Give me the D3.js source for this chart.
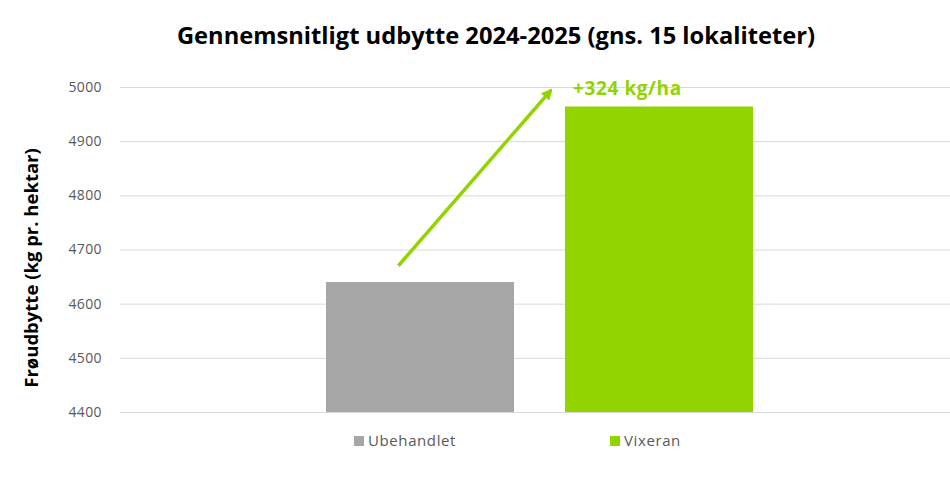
<!DOCTYPE html>
<html>
<head>
<meta charset="utf-8">
<script src="https://cdn.jsdelivr.net/npm/d3@7"></script>
<style>
  body { margin: 0; background: #fff; }
  svg { display: block; }
</style>
</head>
<body>
<div id="chart"></div>
<script>
const series = ["Ubehandlet", "Vixeran"];
const values = [4640, 4964];
const colors = ["#A6A6A6", "#92D400"];
const yTicks = [4400, 4500, 4600, 4700, 4800, 4900, 5000];
const gainLabel = "+324 kg/ha";

const W = 950, H = 500;
const plot = { left: 120, right: 950, top: 87, bottom: 412 };

const svg = d3.select("#chart").append("svg")
  .attr("width", W)
  .attr("height", H);

const y = d3.scaleLinear()
  .domain([4400, 5000])
  .range([plot.bottom, plot.top]);

const x = d3.scaleBand()
  .domain(series)
  .range([326, 753])
  .paddingInner(0.2134)
  .paddingOuter(0);

// gridlines + tick labels
const yAxis = svg.append("g")
  .attr("transform", `translate(${plot.left},0)`)
  .call(d3.axisLeft(y)
    .tickValues(yTicks)
    .tickSize(-(plot.right - plot.left))
    .tickPadding(18)
    .tickFormat(d3.format("d")));
yAxis.select(".domain").remove();
yAxis.selectAll(".tick line").attr("stroke", "#d9d9d9").attr("stroke-width", 1);
yAxis.selectAll(".tick text")
  .attr("fill", "#595959")
  .style("font-family", "'Open Sans', sans-serif")
  .style("font-size", "14px")
  .style("letter-spacing", "0.4px");

// bars
svg.selectAll(".bar")
  .data(series)
  .enter().append("rect")
  .attr("class", "bar")
  .attr("x", d => x(d))
  .attr("y", (d, i) => y(values[i]))
  .attr("width", x.bandwidth())
  .attr("height", (d, i) => y(4400) - y(values[i]))
  .attr("fill", (d, i) => colors[i]);

// title
svg.append("text")
  .attr("x", 496)
  .attr("y", 44)
  .attr("text-anchor", "middle")
  .style("font-family", "'Open Sans', sans-serif")
  .style("font-weight", "700")
  .style("font-size", "23.7px")
  .attr("fill", "#000")
  .text("Gennemsnitligt udbytte 2024-2025 (gns. 15 lokaliteter)");

// y axis title
svg.append("text")
  .attr("transform", `translate(38,268) rotate(-90)`)
  .attr("text-anchor", "middle")
  .style("font-family", "'Open Sans', sans-serif")
  .style("font-weight", "700")
  .style("font-size", "18.5px")
  .attr("fill", "#000")
  .text("Frøudbytte (kg pr. hektar)");

// arrow annotation
const defs = svg.append("defs");
defs.append("marker")
  .attr("id", "head")
  .attr("viewBox", "0 0 10 10")
  .attr("refX", 8)
  .attr("refY", 5)
  .attr("markerWidth", 3.2)
  .attr("markerHeight", 3.2)
  .attr("orient", "auto")
  .append("path")
  .attr("d", "M0,0 L10,5 L0,10 Z")
  .attr("fill", colors[1]);

svg.append("line")
  .attr("x1", x(series[0]) + x.bandwidth() * 0.385)
  .attr("y1", y(4670))
  .attr("x2", x(series[1]) - 14)
  .attr("y2", y(4994))
  .attr("stroke", colors[1])
  .attr("stroke-width", 3.5)
  .attr("marker-end", "url(#head)");

svg.append("text")
  .attr("x", x(series[1]) + 8)
  .attr("y", y(4985))
  .style("font-family", "'Open Sans', sans-serif")
  .style("font-weight", "700")
  .style("font-size", "19px")
  .style("letter-spacing", "0.6px")
  .attr("fill", colors[1])
  .text(gainLabel);

// legend
const legend = svg.append("g");
const legendX = [354, 610];
series.forEach((s, i) => {
  legend.append("rect")
    .attr("x", legendX[i])
    .attr("y", 436)
    .attr("width", 10)
    .attr("height", 10)
    .attr("fill", colors[i]);
  legend.append("text")
    .attr("x", legendX[i] + 14)
    .attr("y", 446)
    .style("font-family", "'Open Sans', sans-serif")
    .style("font-size", "15px")
    .style("letter-spacing", "0.6px")
    .attr("fill", "#595959")
    .text(s);
});
</script>
</body>
</html>
